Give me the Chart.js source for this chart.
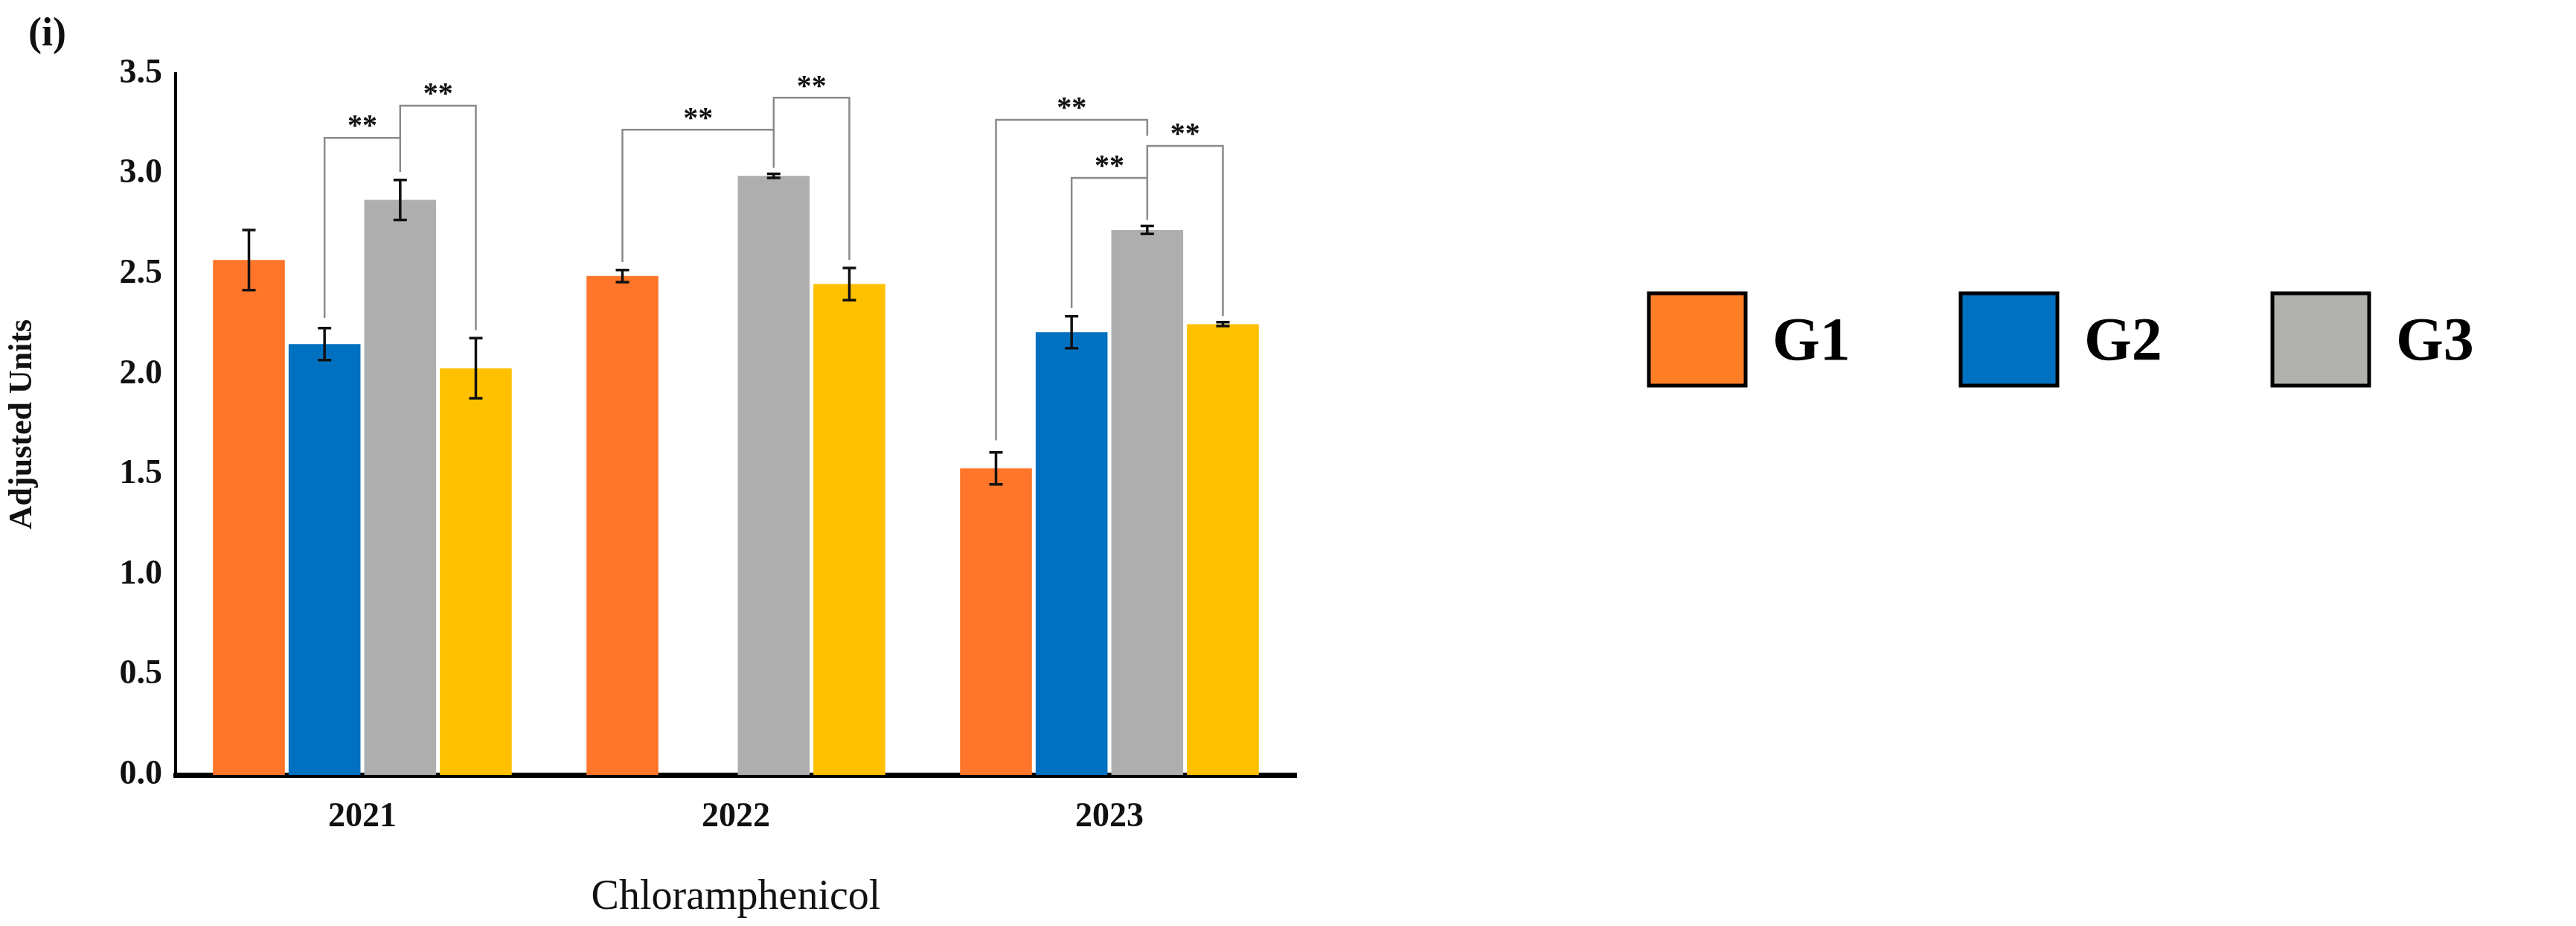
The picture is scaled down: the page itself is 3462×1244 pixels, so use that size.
<!DOCTYPE html>
<html>
<head>
<meta charset="utf-8">
<script src="https://cdn.jsdelivr.net/npm/chart.js@4"></script>
<style>
  html, body { margin: 0; padding: 0; background: #fff; }
  #wrap { width: 3462px; height: 1244px; position: relative; }
</style>
</head>
<body>
<div id="wrap"><canvas id="chart" width="3462" height="1244"></canvas></div>
<script>
// data
const years = ["2021", "2022", "2023"];
const groups = ["G1", "G2", "G3", "G4"];
const colors = ["#ff7529", "#0070c0", "#aeaeae", "#ffc000"];
const legendColors = ["#ff7f27", "#0070c0", "#b0b0ac", "#ffc000"];
const g1 = [2.57, 2.49, 1.53];
const g2 = [2.15, null, 2.21];
const g3 = [2.87, 2.99, 2.72];
const g4 = [2.03, 2.45, 2.25];
const g1Err = [0.15, 0.03, 0.08];
const g2Err = [0.08, null, 0.08];
const g3Err = [0.10, 0.01, 0.02];
const g4Err = [0.15, 0.08, 0.01];
const yTicks = [0, 0.5, 1, 1.5, 2, 2.5, 3, 3.5];
// significance brackets: [year index, group a, group b, bracket height, leg a bottom, leg b bottom]
const brackets = [
  [0, 1, 2, 3.18, 2.28, 3.01],
  [0, 2, 3, 3.34, 3.18, 2.22],
  [1, 0, 2, 3.22, 2.56, 3.03],
  [1, 2, 3, 3.38, 3.22, 2.57],
  [2, 0, 2, 3.27, 1.67, 3.19],
  [2, 1, 2, 2.98, 2.33, 2.77],
  [2, 2, 3, 3.14, 2.98, 2.29]
];

const values = [g1, g2, g3, g4];
const errors = [g1Err, g2Err, g3Err, g4Err];
const serif = "'Liberation Serif', 'DejaVu Serif', serif";

const datasets = groups.map((g, i) => ({
  label: g,
  data: values[i],
  errors: errors[i],
  backgroundColor: colors[i],
  borderWidth: 0,
  barPercentage: 0.95,
  categoryPercentage: 0.81
}));

function barX(chart, di, idx) {
  return chart.getDatasetMeta(di).data[idx].x;
}

const extras = {
  id: "extras",
  afterDatasetsDraw(chart) {
    const ctx = chart.ctx;
    const y = chart.scales.y;
    ctx.save();
    // error bars
    ctx.strokeStyle = "#111";
    ctx.lineWidth = 3.5;
    chart.data.datasets.forEach((ds, di) => {
      ds.data.forEach((v, idx) => {
        const e = ds.errors[idx];
        if (v == null || e == null) return;
        const x = barX(chart, di, idx);
        const top = y.getPixelForValue(v + e), bot = y.getPixelForValue(v - e);
        ctx.beginPath();
        ctx.moveTo(x, top); ctx.lineTo(x, bot);
        ctx.moveTo(x - 9, top); ctx.lineTo(x + 9, top);
        ctx.moveTo(x - 9, bot); ctx.lineTo(x + 9, bot);
        ctx.stroke();
      });
    });
    // brackets
    ctx.strokeStyle = "#8a8a8a";
    ctx.lineWidth = 2.5;
    ctx.fillStyle = "#111";
    ctx.font = "bold 40px " + serif;
    ctx.textAlign = "center";
    ctx.textBaseline = "bottom";
    brackets.forEach(([yi, a, b, h, la, lb]) => {
      const xa = barX(chart, a, yi), xb = barX(chart, b, yi);
      const yh = y.getPixelForValue(h);
      ctx.beginPath();
      ctx.moveTo(xa, y.getPixelForValue(la));
      ctx.lineTo(xa, yh);
      ctx.lineTo(xb, yh);
      ctx.lineTo(xb, y.getPixelForValue(lb));
      ctx.stroke();
      ctx.fillText("**", (xa + xb) / 2, yh + 6);
    });
    // panel label
    ctx.textAlign = "left";
    ctx.textBaseline = "top";
    ctx.font = "bold 54px " + serif;
    ctx.fillText("(i)", 38, 20);
    // legend
    ctx.font = "bold 82px " + serif;
    ctx.textBaseline = "middle";
    chart.data.datasets.forEach((ds, i) => {
      const x0 = 2216 + i * 419;
      ctx.fillStyle = legendColors[i];
      ctx.fillRect(x0, 394, 130, 124);
      ctx.strokeStyle = "#000";
      ctx.lineWidth = 5;
      ctx.strokeRect(x0, 394, 130, 124);
      ctx.fillStyle = "#000";
      ctx.fillText(ds.label, x0 + 166, 462);
    });
    ctx.restore();
  }
};

new Chart(document.getElementById("chart"), {
  type: "bar",
  data: { labels: years, datasets: datasets },
  options: {
    responsive: false,
    animation: false,
    devicePixelRatio: 1,
    layout: { padding: { left: 0, right: 1720, top: 99, bottom: 0 } },
    plugins: { legend: { display: false }, tooltip: { enabled: false } },
    scales: {
      x: {
        grid: { display: false, drawTicks: false },
        border: { color: "#000", width: 7 },
        ticks: { color: "#111", padding: 30, font: { family: serif, size: 46, weight: "bold" } },
        title: { display: true, text: "Chloramphenicol", color: "#111", padding: { top: 20 },
                 font: { family: serif, size: 56 } },
        afterFit(s) { s.height = 203; }
      },
      y: {
        min: 0, max: 3.5,
        afterBuildTicks(s) { s.ticks = yTicks.map(v => ({ value: v })); },
        grid: { display: false, drawTicks: true, tickLength: 14, tickColor: "#000", tickWidth: 3 },
        border: { color: "#000", width: 4 },
        ticks: { color: "#111", padding: 4, font: { family: serif, size: 46, weight: "bold" },
                 callback: v => Number(v).toFixed(1) },
        title: { display: true, text: "Adjusted Units", color: "#111",
                 font: { family: serif, size: 44, weight: "bold" } },
        afterFit(s) { s.width = 236; }
      }
    }
  },
  plugins: [extras]
});
</script>
</body>
</html>
